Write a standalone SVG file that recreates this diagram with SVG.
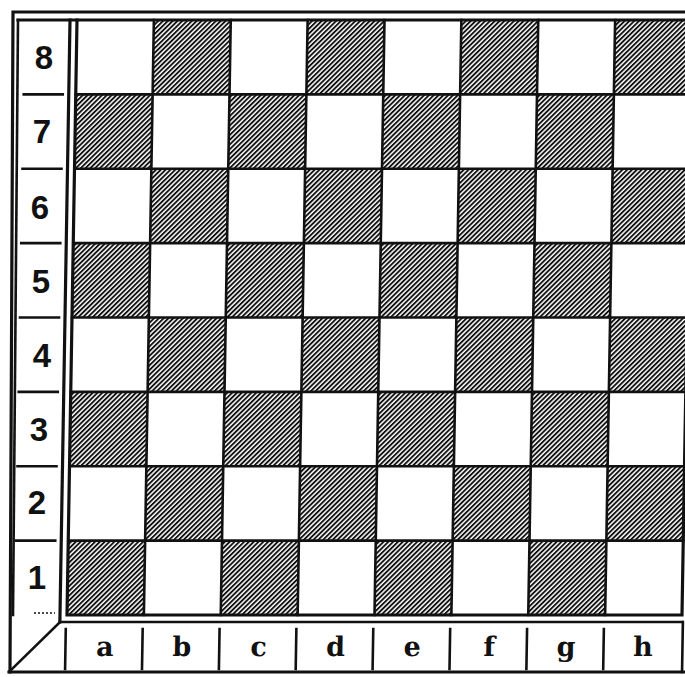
<svg xmlns="http://www.w3.org/2000/svg" width="685" height="677" viewBox="0 0 685 677">
  <defs>
    <pattern id="hatch" patternUnits="userSpaceOnUse" width="3.4" height="3.4" patternTransform="rotate(45)">
      <rect x="0" y="0" width="3.4" height="3.4" fill="#ffffff"/>
      <rect x="0" y="0" width="1.9" height="3.4" fill="#111111"/>
    </pattern>
  </defs>
  <style>
    .dk { fill: url(#hatch); }
    .ln { stroke: #111; stroke-width: 2.6; fill: none; stroke-linecap: square; }
    .th { stroke: #111; stroke-width: 3.2; fill: none; stroke-linecap: square; }
    .rk { font-family: "Liberation Sans", "DejaVu Sans", sans-serif; font-weight: bold; font-size: 33px; fill: #111; text-anchor: middle; }
    .fl { font-family: "DejaVu Serif", "Liberation Serif", serif; font-weight: bold; font-size: 27px; fill: #111; text-anchor: middle; }
  </style>
  <rect width="685" height="677" fill="#ffffff"/>

  <!-- outer frame (absolute) -->
  <g id="frame">
    <polyline class="th" points="10,672 13,12 685,12"/>
    <line class="ln" x1="18" y1="20" x2="13" y2="615"/>
    <line class="th" x1="18" y1="20" x2="77" y2="20"/>
    <line class="th" x1="9" y1="672" x2="685" y2="672"/>
    <line class="ln" x1="60" y1="622" x2="10" y2="671"/>
    <line x1="34" y1="613" x2="55" y2="613" stroke="#111" stroke-width="1.5" stroke-dasharray="2 2"/>
  </g>

  <g transform="matrix(1,0,-0.0168,1,0.336,0)">
    <!-- board squares -->
    <g id="board">
      <rect id="b8" class="dk" x="153.875" y="20" width="76.875" height="74.375"/>
      <rect id="d8" class="dk" x="307.625" y="20" width="76.875" height="74.375"/>
      <rect id="f8" class="dk" x="461.375" y="20" width="76.875" height="74.375"/>
      <rect id="h8" class="dk" x="615.125" y="20" width="76.875" height="74.375"/>

      <rect id="a7" class="dk" x="77" y="94.375" width="76.875" height="74.375"/>
      <rect id="c7" class="dk" x="230.75" y="94.375" width="76.875" height="74.375"/>
      <rect id="e7" class="dk" x="384.5" y="94.375" width="76.875" height="74.375"/>
      <rect id="g7" class="dk" x="538.25" y="94.375" width="76.875" height="74.375"/>

      <rect id="b6" class="dk" x="153.875" y="168.75" width="76.875" height="74.375"/>
      <rect id="d6" class="dk" x="307.625" y="168.75" width="76.875" height="74.375"/>
      <rect id="f6" class="dk" x="461.375" y="168.75" width="76.875" height="74.375"/>
      <rect id="h6" class="dk" x="615.125" y="168.75" width="76.875" height="74.375"/>

      <rect id="a5" class="dk" x="77" y="243.125" width="76.875" height="74.375"/>
      <rect id="c5" class="dk" x="230.75" y="243.125" width="76.875" height="74.375"/>
      <rect id="e5" class="dk" x="384.5" y="243.125" width="76.875" height="74.375"/>
      <rect id="g5" class="dk" x="538.25" y="243.125" width="76.875" height="74.375"/>

      <rect id="b4" class="dk" x="153.875" y="317.5" width="76.875" height="74.375"/>
      <rect id="d4" class="dk" x="307.625" y="317.5" width="76.875" height="74.375"/>
      <rect id="f4" class="dk" x="461.375" y="317.5" width="76.875" height="74.375"/>
      <rect id="h4" class="dk" x="615.125" y="317.5" width="76.875" height="74.375"/>

      <rect id="a3" class="dk" x="77" y="391.875" width="76.875" height="74.375"/>
      <rect id="c3" class="dk" x="230.75" y="391.875" width="76.875" height="74.375"/>
      <rect id="e3" class="dk" x="384.5" y="391.875" width="76.875" height="74.375"/>
      <rect id="g3" class="dk" x="538.25" y="391.875" width="76.875" height="74.375"/>

      <rect id="b2" class="dk" x="153.875" y="466.25" width="76.875" height="74.375"/>
      <rect id="d2" class="dk" x="307.625" y="466.25" width="76.875" height="74.375"/>
      <rect id="f2" class="dk" x="461.375" y="466.25" width="76.875" height="74.375"/>
      <rect id="h2" class="dk" x="615.125" y="466.25" width="76.875" height="74.375"/>

      <rect id="a1" class="dk" x="77" y="540.625" width="76.875" height="74.375"/>
      <rect id="c1" class="dk" x="230.75" y="540.625" width="76.875" height="74.375"/>
      <rect id="e1" class="dk" x="384.5" y="540.625" width="76.875" height="74.375"/>
      <rect id="g1" class="dk" x="538.25" y="540.625" width="76.875" height="74.375"/>
    </g>

    <!-- grid lines -->
    <g id="grid">
      <line class="ln" x1="153.875" y1="20" x2="153.875" y2="615"/>
      <line class="ln" x1="230.75" y1="20" x2="230.75" y2="615"/>
      <line class="ln" x1="307.625" y1="20" x2="307.625" y2="615"/>
      <line class="ln" x1="384.5" y1="20" x2="384.5" y2="615"/>
      <line class="ln" x1="461.375" y1="20" x2="461.375" y2="615"/>
      <line class="ln" x1="538.25" y1="20" x2="538.25" y2="615"/>
      <line class="ln" x1="615.125" y1="20" x2="615.125" y2="615"/>
      <line class="ln" x1="77" y1="94.375" x2="692" y2="94.375"/>
      <line class="ln" x1="77" y1="168.75" x2="692" y2="168.75"/>
      <line class="ln" x1="77" y1="243.125" x2="692" y2="243.125"/>
      <line class="ln" x1="77" y1="317.5" x2="692" y2="317.5"/>
      <line class="ln" x1="77" y1="391.875" x2="692" y2="391.875"/>
      <line class="ln" x1="77" y1="466.25" x2="692" y2="466.25"/>
      <line class="ln" x1="77" y1="540.625" x2="692" y2="540.625"/>
      <rect class="th" x="77" y="20" width="615" height="595"/>
    </g>

    <!-- rank column -->
    <g id="rank-column">
      <line class="th" x1="70" y1="20" x2="70" y2="622"/>
      <line class="ln" x1="25" y1="94.375" x2="64" y2="94.375"/>
      <line class="ln" x1="25" y1="168.75" x2="64" y2="168.75"/>
      <line class="ln" x1="25" y1="243.125" x2="64" y2="243.125"/>
      <line class="ln" x1="25" y1="317.5" x2="64" y2="317.5"/>
      <line class="ln" x1="25" y1="391.875" x2="64" y2="391.875"/>
      <line class="ln" x1="25" y1="466.25" x2="64" y2="466.25"/>
      <line class="ln" x1="25" y1="540.625" x2="64" y2="540.625"/>
    </g>

    <!-- file row -->
    <g id="file-row">
      <line class="ln" x1="70" y1="622" x2="692" y2="622"/>
      <line class="ln" x1="693" y1="622" x2="693" y2="672"/>
      <line class="ln" x1="76" y1="629" x2="76" y2="669"/>
      <line class="ln" x1="152.9" y1="629" x2="152.9" y2="669"/>
      <line class="ln" x1="229.8" y1="629" x2="229.8" y2="669"/>
      <line class="ln" x1="306.6" y1="629" x2="306.6" y2="669"/>
      <line class="ln" x1="383.5" y1="629" x2="383.5" y2="669"/>
      <line class="ln" x1="460.4" y1="629" x2="460.4" y2="669"/>
      <line class="ln" x1="537.3" y1="629" x2="537.3" y2="669"/>
      <line class="ln" x1="614.1" y1="629" x2="614.1" y2="669"/>
      <text class="fl" x="115.4" y="656">a</text>
      <text class="fl" x="192.3" y="656">b</text>
      <text class="fl" x="269.2" y="656">c</text>
      <text class="fl" x="346.1" y="656">d</text>
      <text class="fl" x="422.9" y="656">e</text>
      <text class="fl" x="499.8" y="656">f</text>
      <text class="fl" x="576.7" y="656">g</text>
      <text class="fl" x="653.6" y="656">h</text>
    </g>
  </g>

  <!-- rank labels -->
  <g id="rank-labels">
    <text class="rk" x="44" y="69">8</text>
    <text class="rk" x="42" y="143">7</text>
    <text class="rk" x="40" y="219">6</text>
    <text class="rk" x="41" y="293">5</text>
    <text class="rk" x="42" y="367">4</text>
    <text class="rk" x="39" y="441">3</text>
    <text class="rk" x="37" y="514">2</text>
    <text class="rk" x="37" y="589">1</text>
  </g>
</svg>
